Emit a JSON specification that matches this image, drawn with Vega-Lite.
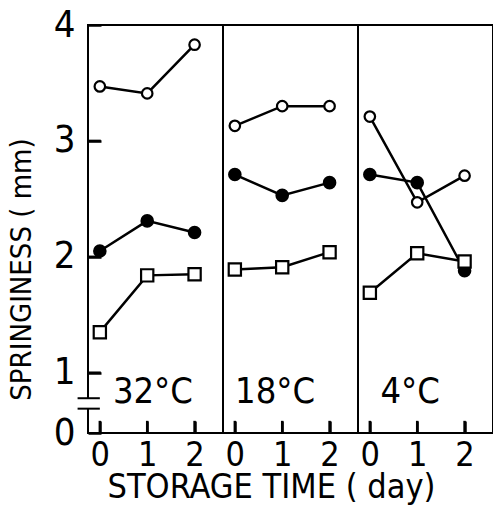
{
  "$schema": "https://vega.github.io/schema/vega-lite/v6.json",
  "padding": {"left": 6, "top": 5, "right": 2, "bottom": 2},
  "background": "white",
  "spacing": 0,
  "bounds": "flush",
  "config": {
    "font": "DejaVu Sans Condensed",
    "view": {"stroke": "black", "strokeWidth": 2},
    "concat": {"spacing": 0},
    "axis": {"grid": false, "labelColor": "black", "titleColor": "black", "labelFont": "DejaVu Sans Condensed", "titleFont": "DejaVu Sans Condensed", "titleFontWeight": "normal", "labelOverlap": false, "domain": false, "tickColor": "black", "tickWidth": 2.5, "labelFlush": false, "zindex": 1},
    "axisX": {"offset": -12, "tickSize": 12, "labelFontSize": 34, "labelPadding": 5},
    "axisY": {"offset": -13, "tickSize": 13, "labelFontSize": 38, "labelPadding": 13},
    "point": {"filled": true, "stroke": "black", "strokeWidth": 2.2, "opacity": 1},
    "line": {"color": "black", "strokeWidth": 2.5},
    "rule": {"color": "black", "strokeWidth": 2.5},
    "text": {"fontSize": 36, "color": "black", "baseline": "middle", "align": "center"}
  },
  "data": {"values": [
    {"temp": "32°C", "day": 0, "series": "open", "value": 3.47},
    {"temp": "32°C", "day": 1, "series": "open", "value": 3.41},
    {"temp": "32°C", "day": 2, "series": "open", "value": 3.83},
    {"temp": "32°C", "day": 0, "series": "filled", "value": 2.05},
    {"temp": "32°C", "day": 1, "series": "filled", "value": 2.31},
    {"temp": "32°C", "day": 2, "series": "filled", "value": 2.21},
    {"temp": "32°C", "day": 0, "series": "square", "value": 1.35},
    {"temp": "32°C", "day": 1, "series": "square", "value": 1.84},
    {"temp": "32°C", "day": 2, "series": "square", "value": 1.85},
    {"temp": "18°C", "day": 0, "series": "open", "value": 3.13},
    {"temp": "18°C", "day": 1, "series": "open", "value": 3.30},
    {"temp": "18°C", "day": 2, "series": "open", "value": 3.30},
    {"temp": "18°C", "day": 0, "series": "filled", "value": 2.71},
    {"temp": "18°C", "day": 1, "series": "filled", "value": 2.53},
    {"temp": "18°C", "day": 2, "series": "filled", "value": 2.64},
    {"temp": "18°C", "day": 0, "series": "square", "value": 1.89},
    {"temp": "18°C", "day": 1, "series": "square", "value": 1.91},
    {"temp": "18°C", "day": 2, "series": "square", "value": 2.04},
    {"temp": "4°C", "day": 0, "series": "open", "value": 3.21},
    {"temp": "4°C", "day": 1, "series": "open", "value": 2.47},
    {"temp": "4°C", "day": 2, "series": "open", "value": 2.70},
    {"temp": "4°C", "day": 0, "series": "filled", "value": 2.71},
    {"temp": "4°C", "day": 1, "series": "filled", "value": 2.64},
    {"temp": "4°C", "day": 2, "series": "filled", "value": 1.88},
    {"temp": "4°C", "day": 0, "series": "square", "value": 1.69},
    {"temp": "4°C", "day": 1, "series": "square", "value": 2.03},
    {"temp": "4°C", "day": 2, "series": "square", "value": 1.96}
  ]},
  "hconcat": [
    {
      "width": 135, "height": 408,
      "transform": [{"filter": "datum.temp == '32°C'"}],
      "encoding": {
        "x": {"field": "day", "type": "quantitative", "scale": {"domain": [-0.25, 2.6], "nice": false, "zero": false}, "axis": {"values": [0, 1, 2], "format": "d", "title": null}},
        "y": {"field": "value", "type": "quantitative", "scale": {"domain": [0.48, 4], "nice": false, "zero": false},
          "axis": {"values": [0.48, 1, 2, 3, 4], "labelExpr": "datum.value < 0.9 ? '0' : format(datum.value, 'd')", "title": "SPRINGINESS ( mm)", "titleFontSize": 29, "titlePadding": 17, "titleY": 244, "titleAlign": "center"}}
      },
      "layer": [
        {"mark": "line", "encoding": {"detail": {"field": "series"}}},
        {"mark": "point", "encoding": {
          "shape": {"field": "series", "type": "nominal", "scale": {"domain": ["open", "filled", "square"], "range": ["circle", "circle", "square"]}, "legend": null},
          "fill": {"field": "series", "type": "nominal", "scale": {"domain": ["open", "filled", "square"], "range": ["white", "black", "white"]}, "legend": null},
          "size": {"field": "series", "type": "nominal", "scale": {"domain": ["open", "filled", "square"], "range": [110, 150, 320]}, "legend": null}}},
        {"transform": [{"filter": "datum.series == 'square' && datum.day == 1"}], "mark": "text",
          "encoding": {"x": {"datum": 1.12}, "y": {"datum": 0.83}, "text": {"field": "temp"}}},
        {"transform": [{"filter": "datum.series == 'square'"}], "mark": "rule",
          "encoding": {"x": {"field": "day", "type": "quantitative"}, "y": {"datum": 0.48}, "y2": {"datum": 0.585}}},
        {"transform": [{"filter": "datum.series == 'square' && datum.day == 0"}], "mark": "rule",
          "encoding": {"x": {"datum": -0.25}, "x2": {"datum": 0.02}, "y": {"datum": 1}}},
        {"transform": [{"filter": "datum.series == 'square' && datum.day == 0"}], "mark": "rule",
          "encoding": {"x": {"datum": -0.25}, "x2": {"datum": 0.02}, "y": {"datum": 2}}},
        {"transform": [{"filter": "datum.series == 'square' && datum.day == 0"}], "mark": "rule",
          "encoding": {"x": {"datum": -0.25}, "x2": {"datum": 0.02}, "y": {"datum": 3}}},
        {"transform": [{"filter": "datum.series == 'square' && datum.day == 0"}],
          "mark": {"type": "rule", "color": "white", "strokeWidth": 5, "clip": false},
          "encoding": {"x": {"datum": -0.25}, "y": {"datum": 0.69}, "y2": {"datum": 0.78}}},
        {"transform": [{"filter": "datum.series == 'square' && datum.day == 0"}],
          "mark": {"type": "rule", "color": "black", "strokeWidth": 2, "clip": false},
          "encoding": {"x": {"datum": -0.47}, "x2": {"datum": 0.0}, "y": {"datum": 0.78}}},
        {"transform": [{"filter": "datum.series == 'square' && datum.day == 0"}],
          "mark": {"type": "rule", "color": "black", "strokeWidth": 2, "clip": false},
          "encoding": {"x": {"datum": -0.47}, "x2": {"datum": 0.0}, "y": {"datum": 0.69}}}
      ]
    },
    {
      "width": 135, "height": 408,
      "transform": [{"filter": "datum.temp == '18°C'"}],
      "encoding": {
        "x": {"field": "day", "type": "quantitative", "scale": {"domain": [-0.25, 2.6], "nice": false, "zero": false},
          "axis": {"values": [0, 1, 2], "format": "d", "title": "STORAGE TIME ( day)", "titleFontSize": 34, "titlePadding": -2, "titleX": 48, "titleAlign": "center"}},
        "y": {"field": "value", "type": "quantitative", "scale": {"domain": [0.48, 4], "nice": false, "zero": false}, "axis": null}
      },
      "layer": [
        {"mark": "line", "encoding": {"detail": {"field": "series"}}},
        {"mark": "point", "encoding": {
          "shape": {"field": "series", "type": "nominal", "scale": {"domain": ["open", "filled", "square"], "range": ["circle", "circle", "square"]}, "legend": null},
          "fill": {"field": "series", "type": "nominal", "scale": {"domain": ["open", "filled", "square"], "range": ["white", "black", "white"]}, "legend": null},
          "size": {"field": "series", "type": "nominal", "scale": {"domain": ["open", "filled", "square"], "range": [110, 150, 320]}, "legend": null}}},
        {"transform": [{"filter": "datum.series == 'square' && datum.day == 1"}], "mark": "text",
          "encoding": {"x": {"datum": 0.85}, "y": {"datum": 0.83}, "text": {"field": "temp"}}},
        {"transform": [{"filter": "datum.series == 'square'"}], "mark": "rule",
          "encoding": {"x": {"field": "day", "type": "quantitative"}, "y": {"datum": 0.48}, "y2": {"datum": 0.585}}}
      ]
    },
    {
      "width": 135, "height": 408,
      "transform": [{"filter": "datum.temp == '4°C'"}],
      "encoding": {
        "x": {"field": "day", "type": "quantitative", "scale": {"domain": [-0.25, 2.6], "nice": false, "zero": false}, "axis": {"values": [0, 1, 2], "format": "d", "title": null}},
        "y": {"field": "value", "type": "quantitative", "scale": {"domain": [0.48, 4], "nice": false, "zero": false}, "axis": null}
      },
      "layer": [
        {"mark": "line", "encoding": {"detail": {"field": "series"}}},
        {"mark": "point", "encoding": {
          "shape": {"field": "series", "type": "nominal", "scale": {"domain": ["open", "filled", "square"], "range": ["circle", "circle", "square"]}, "legend": null},
          "fill": {"field": "series", "type": "nominal", "scale": {"domain": ["open", "filled", "square"], "range": ["white", "black", "white"]}, "legend": null},
          "size": {"field": "series", "type": "nominal", "scale": {"domain": ["open", "filled", "square"], "range": [110, 150, 320]}, "legend": null}}},
        {"transform": [{"filter": "datum.series == 'square' && datum.day == 1"}], "mark": "text",
          "encoding": {"x": {"datum": 0.85}, "y": {"datum": 0.83}, "text": {"field": "temp"}}},
        {"transform": [{"filter": "datum.series == 'square'"}], "mark": "rule",
          "encoding": {"x": {"field": "day", "type": "quantitative"}, "y": {"datum": 0.48}, "y2": {"datum": 0.585}}}
      ]
    }
  ]
}
